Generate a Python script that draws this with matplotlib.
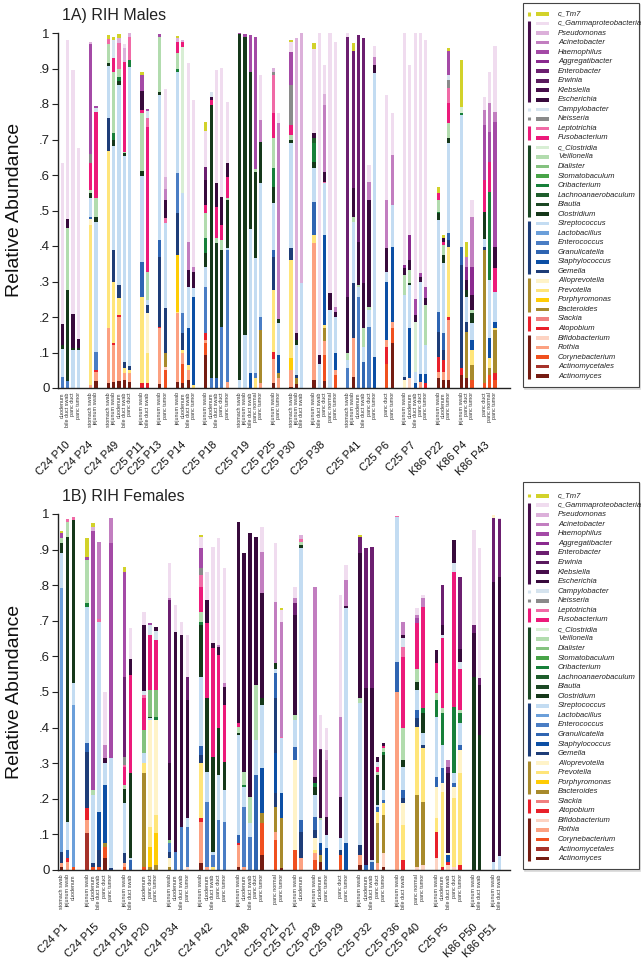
import numpy as np
import matplotlib
matplotlib.use("Agg")
import matplotlib.pyplot as plt
from matplotlib.patches import Rectangle

plt.rcParams['font.family'] = ['Liberation Sans', 'DejaVu Sans']

# legend order = stack order from the top down
taxa = ['c_Tm7', 'c_Gammaproteobacteria', 'Pseudomonas', 'Acinetobacter', 'Haemophilus',
        'Aggregatibacter', 'Enterobacter', 'Erwinia', 'Klebsiella', 'Escherichia',
        'Campylobacter', 'Neisseria', 'Leptotrichia', 'Fusobacterium', 'c_Clostridia',
        'Veillonella', 'Dialister', 'Stomatobaculum', 'Oribacterium', 'Lachnoanaerobaculum',
        'Blautia', 'Clostridium', 'Streptococcus', 'Lactobacillus', 'Enterococcus',
        'Granulicatella', 'Staphylococcus', 'Gemella', 'Alloprevotella', 'Prevotella',
        'Porphyromonas', 'Bacteroides', 'Slackia', 'Atopobium', 'Bifidobacterium',
        'Rothia', 'Corynebacterium', 'Actinomycetales', 'Actinomyces']
codes = ['Tm7', 'Gam', 'Pse', 'Aci', 'Hae', 'Agg', 'Ent', 'Erw', 'Kle', 'Esc',
         'Cam', 'Nei', 'Lep', 'Fus', 'cCl', 'Vei', 'Dia', 'Sto', 'Ori', 'Lch',
         'Bla', 'Clo', 'Str', 'Lbc', 'Enc', 'Gra', 'Sta', 'Gem', 'All', 'Pre',
         'Por', 'Bac', 'Sla', 'Ato', 'Bif', 'Rot', 'Cor', 'Amc', 'Act']
colors = ['#d2d22a', '#f0dcef', '#dcb0da', '#c27ec0', '#a44aa6', '#8b2a8f', '#6c1f70',
          '#5a1a5e', '#470e4b', '#380a3c', '#d5e3ee', '#8a8a8a', '#f06aa6', '#ec1a7a',
          '#d8eed4', '#b2dcae', '#84c27f', '#48a448', '#17803a', '#1e5e2c', '#1b4824',
          '#15381a', '#c3dcf2', '#6b9fda', '#4a7dc4', '#2f65b2', '#0c4fa5', '#1e3d78',
          '#fff3c8', '#ffe57a', '#ffcc05', '#a88a2c', '#f08080', '#e8202a', '#fdd3c2',
          '#fca181', '#f0501f', '#a6322a', '#751c12']
# phylum brackets in the legend: first entry, last entry, colour
phyla = [(0, 0, '#d2d22a'), (1, 9, '#470e4b'), (10, 10, '#d5e3ee'), (11, 11, '#8a8a8a'),
         (12, 13, '#ec1a7a'), (14, 21, '#1b4824'), (22, 27, '#1e3d78'),
         (28, 31, '#a88a2c'), (32, 33, '#e8202a'), (34, 38, '#751c12')]

# ---- 1A) males ----
males_groups = ['C24 P10', 'C24 P24', 'C24 P49', 'C25 P11', 'C25 P13', 'C25 P14', 'C25 P18',
                'C25 P19', 'C25 P25', 'C25 P30', 'C25 P38', 'C25 P41', 'C25 P6', 'C25 P7',
                'K86 P22', 'K86 P4', 'K86 P43']
males_sites = [
    ['duodenum', 'bile duct swab', 'panc duct', 'panc tumor'],
    ['stomach swab', 'jejunum swab'],
    ['stomach swab', 'jejunum swab', 'duodenum', 'bile duct swab', 'panc duct'],
    ['jejunum swab', 'bile duct swab'],
    ['jejunum swab', 'panc tumor'],
    ['jejunum swab', 'duodenum', 'bile duct swab', 'panc tumor'],
    ['jejunum swab', 'duodenum', 'bile duct swab', 'panc duct', 'panc tumor'],
    ['stomach swab', 'jejunum swab', 'bile duct swab', 'panc normal', 'panc tumor'],
    ['jejunum swab', 'panc tumor'],
    ['stomach swab', 'jejunum swab', 'bile duct swab'],
    ['jejunum swab', 'bile duct swab', 'panc duct', 'panc normal', 'panc tumor'],
    ['stomach swab', 'jejunum swab', 'duodenum', 'bile duct swab', 'panc duct', 'panc tumor'],
    ['panc duct', 'panc tumor'],
    ['jejunum swab', 'duodenum', 'bile duct swab', 'panc duct', 'panc tumor'],
    ['jejunum swab', 'duodenum', 'panc tumor'],
    ['jejunum swab', 'panc duct', 'panc tumor'],
    ['panc duct', 'panc normal', 'panc tumor'],
]
# each sample: taxon and cumulative top of its segment, bottom to top
males_stacks = [
    "Enc .03 Str .11 Clo .12 Esc .18 Gam .633",
    "Enc .02 Clo .275 Vei .45 Esc .475 Gam .98",
    "Str .107 Clo .112 Esc .208 Gam .895",
    "Str .107 Clo .112 Esc .138 Gam .675",
    "Rot .008 Pre .46 All .476 Gra .483 Str .534 Clo .548 Vei .558 Fus .633 Nei .658 Hae .968 Pse .975",
    "Act .02 Rot .046 Ato .051 Enc .102 Str .469 Clo .483 Vei .534 Fus .778 Cam .788 Hae .794",
    "Act .015 Rot .168 Pre .668 Gem .76 Str .907 Clo .916 Vei .969 Lep .983 Tm7 .994",
    "Act .018 Rot .121 Ato .126 Pre .30 Gem .39 Str .682 Clo .70 Ori .717 Vei .891 Fus .929 Cam .98 Tm7 .99",
    "Act .021 Rot .20 Ato .206 Pre .253 Gem .29 Str .853 Clo .865 Ori .877 Vei .898 Lep .973 Pse .985 Tm7 .997",
    "Act .023 Rot .041 Pre .055 Gem .074 Str .654 Clo .661 Vei .666 Fus .919 Pse .957 Gam .969",
    "Act .018 Rot .041 Pre .051 Gem .062 Str .905 Ori .924 Lep .99 Pse 1.0",
    "Ato .015 Pre .257 Gra .356 Str .598 Clo .61 Vei .774 Fus .783 Esc .838 Hae .882 Tm7 .891",
    "Ato .015 Pre .10 All .21 Gem .235 Str .248 Vei .328 Fus .736 Lep .76 Cam .781 Hae .785",
    "Act .011 Rot .168 Ato .173 Gem .37 Gra .417 Str .825 Clo .835 Vei .99 Hae .997",
    "Cor .051 Bif .06 Bac .098 Gem .224 Str .464 Lep .478 Esc .53 Aci .56 Pse .595 Gam .841",
    "Act .018 Rot .21 Pre .215 Por .375 Gem .492 Enc .605 Str .891 Ori .898 Vei .943 Fus .976 Pse .985 Tm7 .992",
    "Act .015 Cor .069 Rot .098 Pre .107 Gem .154 Enc .21 Str .548 cCl .961 Fus .976 Pse .98",
    "Act .023 Rot .051 Pre .065 Sta .168 Str .285 Esc .332 Aci .412 Gam .916",
    "Pre .008 Sta .257 Str .281 Esc .328 Aci .342 Gam .811",
    "Act .093 Cor .126 Rot .135 Ato .154 Enc .285 Str .342 Clo .379 Ori .422 Vei .492 Fus .515 Esc .586 Ent .623 Gam .724 Tm7 .748",
    "Enc .027 Clo .797 Fus .81 Esc .82 Cam .835",
    "Gra .027 Clo .409 Vei .422 Fus .511 Esc .577 Gam .896",
    "Enc .173 Clo .389 Vei .417 Fus .459 Esc .539 Gam .90",
    "Rot .018 Enc .389 Str .395 Clo .53 Vei .534 Fus .595 Esc .635 Gam .807",
    "Str .023 Clo .996 Hae 1.0",
    "Str .149 Clo .988 Hae .997",
    "Sta .043 Str .447 Clo .891 Hae .994",
    "Pre .027 Enc .043 Str .365 Clo .609 Vei .616 Hae .99",
    "Rot .013 Bac .163 Enc .20 Str .577 Clo .694 Aci .755 Gam .882",
    "Act .015 Rot .083 Ato .102 Pre .276 Gem .37 Gra .389 Str .52 Clo .567 Ori .619 Vei .703 Fus .774 Lep .882 Nei .891 Pse .90",
    "Rot .027 Bac .041 Sta .093 Str .182 Clo .193 Aci .746 Gam .774",
    "Act .004 Rot .051 Por .084 Pre .361 Gem .393 Str .689 Clo .70 Vei .713 Fus .741 Nei .854 Hae .947 Gam .976 Tm7 .98",
    "Act .011 Bac .027 Gem .037 Str .121 Clo .135 Esc .154 Pse .985",
    "Str .295 Pse .999",
    "Act .023 Rot .408 Pre .431 Gra .525 Str .619 Clo .638 Ori .689 Lch .703 Esc .717 Gam .954 Tm7 .973",
    "Str .069 Esc .093 Gam .999",
    "Act .02 Cor .093 Rot .131 Bac .168 Pre .177 Sta .431 Str .577 Lep .581 Esc .609 Aci .797 Pse .828 Gam .91",
    "Str .22 Esc .267 Gam .999",
    "Cor .037 Rot .051 Sta .098 Str .201 Esc .215 Aci .229 Gam .976",
    "Enc .055 Str .079 Vei .098 Esc .257 Ent .99 Gam .999",
    "Act .032 Rot .14 Gem .295 Str .469 Vei .483 Esc .562 Ent .95 Tm7 .971",
    "Enc .257 Str .285 Vei .29 Esc .412 Ent .994",
    "Gra .074 Str .116 Vei .168 Esc .295 Ent .985",
    "Enc .173 Str .22 Vei .229 Esc .53 Aci .581 Gam .628",
    "Sta .088 Str .886 Esc .91 Aci .933 Gam .963",
    "Cor .069 Ato .116 Rot .135 Sta .30 Str .328 Esc .393 Aci .53 Gam .825",
    "Act .126 Cor .168 Rot .187 Sta .398 Str .515 Aci .656 Gam .774",
    "All .023 Gem .032 Str .262 Vei .318 Esc .337 Agg .346 Gam .999",
    "Bif .027 Sta .168 Str .29 Clo .295 Vei .332 Esc .361 Agg .431 Gam .91",
    "Sta .013 Str .046 cCl .187 Esc .206 Hae .25 Gam .999",
    "Rot .018 Sta .039 Str .30 Esc .314 Hae .325 Gam .999",
    "Ato .013 Sta .039 Str .121 Vei .234 Esc .253 Hae .285 Gam .98",
    "Act .027 Rot .046 Ato .088 Gem .159 Gra .215 Str .473 Clo .492 Ori .497 Vei .53 Fus .548 Tm7 .567",
    "Act .023 Rot .046 Ato .079 Gem .107 Gra .154 Str .351 Clo .375 Vei .403 Fus .41 Esc .422 Tm7 .431",
    "Act .023 Rot .192 Ato .201 Pre .398 Gem .417 Gra .438 Str .689 Clo .703 Vei .746 Fus .802 Lep .844 Nei .868 Cam .882 Hae .95 Tm7 .957",
    "Act .037 Ato .055 Gem .347 Gra .398 Str .769 Ori .776 cCl .791 Tm7 .924",
    "Act .027 Bac .159 Gem .187 Str .257 Clo .276 Esc .304 Agg .342 Aci .37 Tm7 .412",
    "Cor .023 Bac .065 Pre .107 Sta .135 Str .182 Clo .21 Vei .22 Esc .262 Agg .342 Aci .483 Gam .53",
    "Cor .013 Bac .389 Gem .398 Str .419 Clo .497 Fus .586 Hae .741 Aci .783 Gam .821",
    "Cor .037 Bac .055 Pre .084 Sta .14 Str .304 Ori .553 Fus .638 Hae .722 Aci .802 Gam .891",
    "Cor .023 Ato .041 Bac .163 Pre .168 Sta .187 Str .271 Fus .337 Esc .398 Hae .75 Aci .778 Gam .963",
]

# ---- 1B) females ----
females_groups = ['C24 P1', 'C24 P15', 'C24 P16', 'C24 P20', 'C24 P34', 'C24 P42', 'C24 P48',
                  'C25 P21', 'C25 P27', 'C25 P28', 'C25 P29', 'C25 P32', 'C25 P36', 'C25 P40',
                  'C25 P5', 'K86 P50', 'K86 P51']
females_sites = [
    ['stomach swab', 'jejunum swab', 'duodenum'],
    ['jejunum swab', 'duodenum', 'bile duct swab', 'panc duct', 'panc tumor'],
    ['jejunum swab', 'bile duct swab'],
    ['duodenum', 'panc duct', 'panc tumor'],
    ['jejunum swab', 'duodenum', 'bile duct swab', 'panc tumor'],
    ['jejunum swab', 'duodenum', 'bile duct swab', 'panc duct', 'panc tumor'],
    ['jejunum swab', 'duodenum', 'bile duct swab', 'panc duct', 'panc tumor'],
    ['panc normal', 'panc tumor'],
    ['jejunum swab', 'duodenum'],
    ['jejunum swab', 'duodenum', 'panc tumor'],
    ['panc duct', 'panc tumor'],
    ['jejunum swab', 'duodenum', 'bile duct swab', 'panc duct', 'panc tumor'],
    ['jejunum swab', 'bile duct swab'],
    ['panc normal', 'panc tumor'],
    ['jejunum swab', 'duodenum', 'bile duct swab', 'panc duct', 'panc tumor'],
    ['jejunum swab', 'bile duct swab'],
    ['jejunum swab', 'bile duct swab'],
]
females_stacks = [
    "Act .009 Rot .019 Gem .051 Lbc .791 Str .891 Clo .918 Vei .932 Hae .946 Tm7 .953",
    "Rot .023 Ato .033 Gra .056 Str .136 Clo .936 Vei .978 Lep .985",
    "Cor .009 Lbc .463 Str .524 Clo .983 Lep .991",
    "Amc .103 Rot .14 Ato .173 Gem .332 Gra .356 Str .74 Ori .749 Vei .871 Hae .88 Tm7 .932",
    "Cor .009 Gem .019 Str .211 Vei .225 Hae .953 Pse .964 Tm7 .976",
    "Cor .009 Gem .056 Sta .164 Str .698 Lep .705 Aci .922",
    "Act .033 Cor .066 Bac .075 Sta .239 Str .30 Esc .314 Aci .351 Gam .501",
    "Gem .005 Str .314 Hae .918 Aci .988",
    "Cor .009 Rot .019 Gem .047 Str .187 Clo .227 Vei .239 Fus .29 Lep .295 Nei .318 Ent .543 Hae .838 Tm7 .85",
    "Gra .028 Str .033 Clo .272 Fus .548 Esc .592 Gam .679",
    "Cor .009 Bac .272 Pre .301 Str .328 Dia .393 Fus .482 Lep .492 Cam .504 Esc .688 Gam .726",
    "Bac .009 Por .066 Pre .122 All .421 Str .426 Clo .431 Dia .506 Fus .66 Cam .688 Hae .695",
    "Bac .014 Por .103 Pre .155 All .421 Ori .431 Dia .506 Fus .646 Cam .672 Esc .682",
    "Bac .009 All .033 Gem .051 Enc .075 Dia .084 Esc .30 Ent .758 Aci .763 Gam .861",
    "Enc .051 Esc .669 Gam .744",
    "Enc .122 Esc .66 Gam .698",
    "Bif .009 Enc .122 Str .145 Esc .478 Ent .543 Gam .66",
    "Act .019 Rot .136 Ato .145 Pre .30 Gem .323 Gra .348 Str .543 Clo .688 Ori .698 Vei .726 Fus .796 Lep .829 Nei .847 Hae .904 Gam .936 Tm7 .941",
    "Rot .009 Enc .192 Str .276 Clo .482 Fus .693 Esc .758 Gam .838",
    "Pre .009 Enc .042 Str .051 Clo .318 Fus .623 Esc .637 Gam .906",
    "Enc .14 Str .267 Clo .398 Fus .604 Esc .627 Aci .632 Gam .932",
    "Enc .136 Str .225 Clo .304 Fus .463 Esc .515 Aci .524 Gam .847",
    "Act .009 Rot .07 Ato .077 Gra .098 Str .379 Clo .385 Vei .403 Fus .414 Esc .978",
    "Rot .009 Enc .178 Str .234 Ori .239 Vei .276 Esc .891",
    "Enc .094 Str .131 Vei .206 Esc .948",
    "Gra .267 Str .365 Vei .52 Esc .934",
    "Act .042 Cor .131 Bac .159 Sta .286 Str .463 Clo .482 Esc .777 Aci .894 Gam .963",
    "Cor .084 Rot .108 Bac .178 Gem .215 Sta .328 Gem .482 Gra .552 Str .566 Clo .582 Aci .754 Gam .919",
    "Act .005 Bac .145 Sta .215 Str .37 Lep .373 Aci .698 Gam .73 Tm7 .735",
    "Cor .056 All .309 Gra .346 Str .421 Vei .435 Esc .716 Ent .749 Aci .763 Gam .796",
    "Rot .033 Gem .108 Gra .14 Str .904 Clo .913 Vei .922 Lep .929 Pse .941",
    "Cor .028 Rot .047 Pre .056 All .089 Gem .112 Gra .15 Str .211 Clo .234 Ori .243 Esc .262 Aci .796",
    "Act .023 Bac .042 Gem .056 Sta .075 Str .14 Vei .145 Esc .337 Ent .339 Gam .435",
    "Sta .061 Str .098 Esc .15 Aci .309 Pse .337 Gam .398",
    "Cor .042 Gem .056 Str .089 Esc .206 Aci .431 Gam .773",
    "Sta .075 Str .735 Esc .742 Aci .815 Gam .857",
    "Act .014 Rot .042 Gem .07 Str .468 Vei .482 Esc .89 Ent .934 Tm7 .941",
    "Gra .014 Esc .51 Ent .904",
    "Gra .023 Str .028 Esc .51 Ent .908",
    "Rot .019 Bac .131 Pre .164 Gra .178 Str .183 Clo .267 Vei .276 Fus .29 Cam .304 Esc .318",
    "Act .009 Bif .047 Bac .154 Pre .187 Gra .197 Str .225 Clo .323 Ori .332 Vei .342 Fus .348 Esc .358",
    "Rot .501 Gra .585 Str .991 Lep .994",
    "Ato .028 Pre .126 All .187 Gem .201 Gra .225 Str .29 Clo .309 Vei .398 Fus .599 Lep .627 Cam .651 Esc .66 Aci .698",
    "Bif .009 Bac .211 Pre .403 Gem .426 Gra .449 Str .506 Clo .529 Vei .566 Fus .693 Hae .707 Aci .716 Gam .735",
    "Bif .014 Bac .192 Pre .342 Gem .351 Str .384 Clo .44 Ori .454 Fus .74 Aci .763 Gam .772",
    "Bif .033 Ato .108 Pre .145 All .234 Gra .262 Str .431 Ori .478 Vei .497 Fus .581 Esc .618",
    "Ato .009 Pre .22 All .243 Gra .286 Str .351 Ori .44 Vei .454 Fus .651 Cam .66 Esc .688 Ent .80",
    "Bif .014 Ato .023 Sta .042 All .049 Esc .272 Ent .29 Aci .309",
    "Bif .009 Pre .201 All .234 Gra .243 Str .272 Ori .459 Fus .838 Cam .861 Esc .927",
    "Ato .014 Pre .272 All .337 Gra .351 Str .412 Ori .44 Vei .449 Fus .566 Cam .585 Esc .622 Ent .822",
    "Clo .543 Esc .665 Ent .688 Gam .955",
    "Clo .379 Esc .52 Ent .538 Gam .904",
    "Str .023 Esc .81 Ent .988 All .996",
    "Str .039 Esc .824 Ent .985 Gam .99",
]

yticks = [0, .1, .2, .3, .4, .5, .6, .7, .8, .9, 1]
ytick_labels = ['0', '.1', '.2', '.3', '.4', '.5', '.6', '.7', '.8', '.9', '1']

col_of = dict(zip(codes, colors))
GAP = 1.33


def positions(sites):
    xs, centers, pos = [], [], 0.0
    for g in sites:
        grp = [pos + i for i in range(len(g))]
        xs += grp
        centers.append(np.mean(grp))
        pos = grp[-1] + 1 + GAP
    return xs, centers


def panel(ax, title, groups, sites, stacks, xlim):
    xs, centers = positions(sites)
    bx, bb, bh, bc = [], [], [], []
    for x, s in zip(xs, stacks):
        tok = s.split()
        prev = 0.0
        for code, top in zip(tok[::2], tok[1::2]):
            top = float(top)
            bx.append(x); bb.append(prev); bh.append(top - prev); bc.append(col_of[code])
            prev = top
    ax.bar(bx, bh, bottom=bb, width=0.6, color=bc, linewidth=0)
    ax.set_xlim(*xlim)
    ax.set_ylim(0, 1)
    ax.set_xticks([])
    ax.set_yticks(yticks)
    ax.set_yticklabels(ytick_labels, fontsize=9.5)
    ax.tick_params(axis='y', length=4, width=0.8, pad=2, colors='#222')
    for sp in ['top', 'right']:
        ax.spines[sp].set_visible(False)
    for sp in ['left', 'bottom']:
        ax.spines[sp].set_linewidth(1.0)
        ax.spines[sp].set_color('#222')
    tr = ax.get_xaxis_transform()
    for x, lab in zip(xs, [s for g in sites for s in g]):
        ax.text(x, -0.012, lab, transform=tr, rotation=90, ha='center', va='top',
                fontsize=3.9, color='#333')
    for c, name in zip(centers, groups):
        ax.text(c + 0.4, -0.146, name, transform=tr, rotation=45, ha='right', va='top',
                fontsize=8, color='#111')
    ax.text(0.008, 1.05, title, transform=ax.transAxes, fontsize=11.5, color='#222',
            ha='left', va='center')


fig = plt.figure(figsize=(6.41, 9.6), dpi=100)
ax1 = fig.add_axes([58 / 641, 572 / 960, 452 / 641, 355 / 960])
ax2 = fig.add_axes([58 / 641, 90 / 960, 452 / 641, 356 / 960])
panel(ax1, '1A) RIH Males', males_groups, males_sites, males_stacks, (-0.8, 84.1))
panel(ax2, '1B) RIH Females', females_groups, females_sites, females_stacks, (-0.63, 76.1))
for yc in (1 - 210 / 960, 1 - 692 / 960):
    fig.text(15 / 641, yc, 'Relative Abundance', rotation=90, fontsize=14,
             ha='center', va='center', color='#111')

# legends, drawn in pixel coordinates
ov = fig.add_axes([0, 0, 1, 1], zorder=5)
ov.set_xlim(0, 641)
ov.set_ylim(960, 0)
ov.axis('off')


def legend(y0, y1, first, step):
    ov.add_patch(Rectangle((524.5, y0 + 1.5), 115, y1 - y0, fill=False, lw=1.2, ec='#d8d8d8'))
    ov.add_patch(Rectangle((523, y0), 115.5, y1 - y0, fc='white', lw=0.8, ec='#444'))
    for i, (name, col) in enumerate(zip(taxa, colors)):
        y = first + i * step
        ov.add_patch(Rectangle((536, y - 1.8), 13, 3.6, fc=col, lw=0))
        ov.text(558, y, name, fontsize=5.5, style='italic', va='center', ha='left', color='#222')
    for a, b, col in phyla:
        pad = 1.6 if a == b else 2.6
        ov.plot([528.5, 528.5], [first + a * step - pad, first + b * step + pad],
                color=col, lw=2.2, solid_capstyle='butt')


legend(3, 387, 14, 9.53)
legend(482, 869, 495.7, 9.55)

fig.savefig('out.png', dpi=100)
